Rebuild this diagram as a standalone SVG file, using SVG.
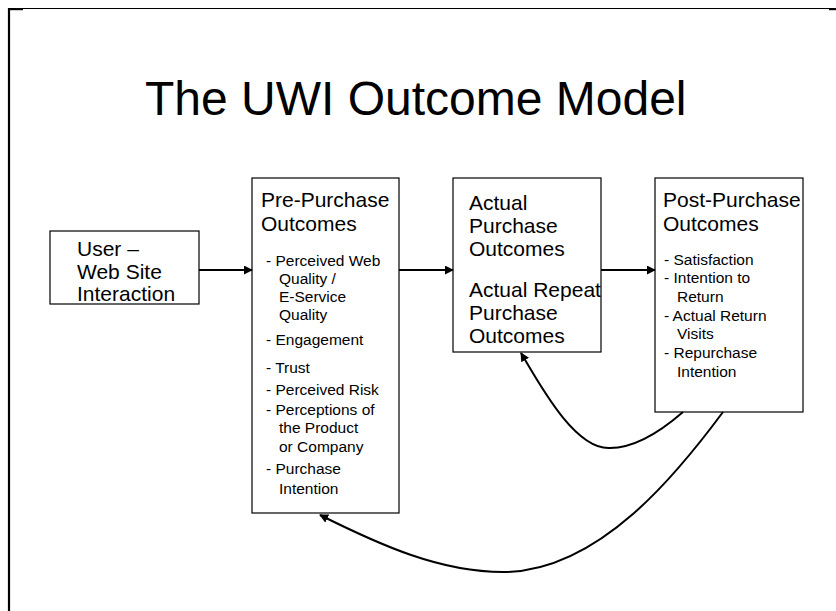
<svg xmlns="http://www.w3.org/2000/svg" width="836" height="611" viewBox="0 0 836 611">
<style>
text{font-family:"Liberation Sans",Arial,sans-serif;fill:#000}
.h{font-size:21px}
.s{font-size:15.5px}
.t{font-size:48px}
.box{fill:#fff;stroke:#000;stroke-width:1.2}
.con{fill:none;stroke:#000;stroke-width:2}
</style>
<defs>
<marker id="ah" viewBox="0 0 10 10" refX="9" refY="5" markerWidth="4.5" markerHeight="4.5" orient="auto" markerUnits="strokeWidth">
<path d="M0,0 L10,5 L0,10 z" fill="#000"/>
</marker>
</defs>
<rect width="836" height="611" fill="#fff"/>
<g id="frame">
<line x1="9" y1="8" x2="9" y2="611" stroke="#000" stroke-width="2.2"/>
<line x1="8" y1="8.5" x2="836" y2="8.5" stroke="#000" stroke-width="1"/>
<rect x="8" y="8" width="15" height="2.2" fill="#000"/>
<rect x="829" y="8" width="7" height="2.2" fill="#000"/>
</g>
<text class="t" x="145" y="115">The UWI Outcome Model</text>
<g id="user">
<rect class="box" x="50" y="231" width="149" height="73"/>
<text class="h" x="77" y="256">User –</text>
<text class="h" x="77" y="279">Web Site</text>
<text class="h" x="77" y="301">Interaction</text>
</g>
<g id="pre">
<rect class="box" x="252" y="178" width="147" height="335"/>
<text class="h" x="261" y="207">Pre-Purchase</text>
<text class="h" x="261" y="231">Outcomes</text>
<text class="s" x="266" y="266">- Perceived Web</text>
<text class="s" x="279" y="284">Quality /</text>
<text class="s" x="279" y="302">E-Service</text>
<text class="s" x="279" y="320">Quality</text>
<text class="s" x="266" y="345">- Engagement</text>
<text class="s" x="266" y="373">- Trust</text>
<text class="s" x="266" y="395">- Perceived Risk</text>
<text class="s" x="266" y="415">- Perceptions of</text>
<text class="s" x="279" y="433">the Product</text>
<text class="s" x="279" y="452">or Company</text>
<text class="s" x="266" y="474">- Purchase</text>
<text class="s" x="279" y="494">Intention</text>
</g>
<g id="actual">
<rect class="box" x="453" y="178" width="148" height="174"/>
<text class="h" x="469" y="210">Actual</text>
<text class="h" x="469" y="233">Purchase</text>
<text class="h" x="469" y="256">Outcomes</text>
<text class="h" x="469" y="297">Actual Repeat</text>
<text class="h" x="469" y="320">Purchase</text>
<text class="h" x="469" y="343">Outcomes</text>
</g>
<g id="post">
<rect class="box" x="655" y="178" width="148" height="234"/>
<text class="h" x="663" y="207">Post-Purchase</text>
<text class="h" x="663" y="231">Outcomes</text>
<text class="s" x="664" y="265">- Satisfaction</text>
<text class="s" x="664" y="283">- Intention to</text>
<text class="s" x="677" y="302">Return</text>
<text class="s" x="664" y="321">- Actual Return</text>
<text class="s" x="677" y="339">Visits</text>
<text class="s" x="664" y="358">- Repurchase</text>
<text class="s" x="677" y="377">Intention</text>
</g>
<g id="connectors">
<line class="con" x1="199" y1="270" x2="252" y2="270" marker-end="url(#ah)"/>
<line class="con" x1="399" y1="270" x2="453" y2="270" marker-end="url(#ah)"/>
<line class="con" x1="601" y1="270" x2="655" y2="270" marker-end="url(#ah)"/>
<path class="con" d="M683,412 C660,432 635,448 610,448 C575,450 540,385 521,353" marker-end="url(#ah)"/>
<path class="con" d="M723,412 C680,470 600,572 503,572 C440,572 380,545 320,515" marker-end="url(#ah)"/>
</g>
</svg>
